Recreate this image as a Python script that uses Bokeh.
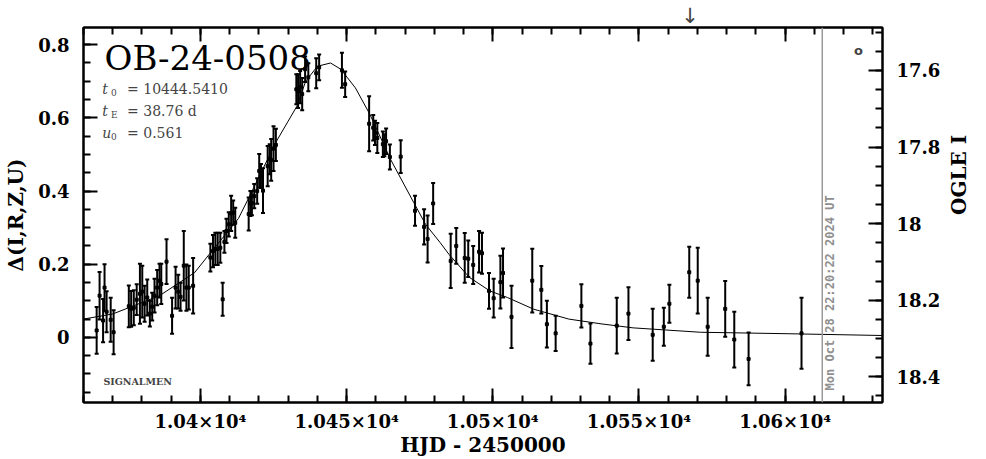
import numpy as np
from bokeh.plotting import figure
from bokeh.models import (Range1d, LinearAxis, FixedTicker, Whisker, TeeHead,
                          ColumnDataSource, Span, Label)
from bokeh.embed import file_html
from bokeh.resources import INLINE

# ---------------- data ----------------
hjd = [10364.5, 10365.5, 10366.7, 10367.2, 10367.9, 10369.3, 10370.3,
       10375.5, 10376.3, 10377.2, 10378.2, 10379.3, 10380.1, 10380.9, 10381.8, 10382.7, 10383.5, 10384.3, 10385.2, 10386.0, 10386.6, 10388.4,
       10390.3, 10391.5, 10392.4, 10393.2, 10394.3, 10395.2, 10396.0, 10397.5,
       10403.4, 10404.3, 10405.1, 10405.9, 10406.8, 10407.6, 10408.2, 10408.9, 10409.7, 10410.5, 10411.2, 10411.9,
       10416.5, 10417.1, 10417.6, 10418.4, 10419.4, 10420.1, 10420.7, 10421.4, 10423.0, 10423.7, 10424.2, 10425.0, 10425.8,
       10432.8, 10433.4, 10434.1, 10434.8, 10435.8, 10436.9, 10439.6, 10440.6, 10448.4, 10449.5,
       10457.7, 10459.1, 10459.7, 10460.5, 10462.4, 10462.9, 10463.5, 10464.8, 10468.5, 10473.4, 10476.5, 10477.7, 10479.6,
       10485.6, 10487.5, 10490.4, 10491.6, 10493.3, 10495.3, 10496.3, 10498.7, 10500.3, 10502.6, 10503.5, 10506.4,
       10513.5, 10516.6, 10518.5, 10521.5, 10530.3, 10533.4, 10542.4, 10546.4, 10554.7, 10558.5, 10560.4, 10567.2,
       10570.1, 10573.5, 10579.5, 10582.6, 10587.5, 10605.6]
delta = [0.019, 0.114, 0.046, 0.136, 0.070, 0.048, 0.014,
         0.085, 0.078, 0.081, 0.103, 0.119, 0.125, 0.092, 0.109, 0.065, 0.084, 0.114, 0.136, 0.155, 0.146, 0.207,
         0.059, 0.136, 0.125, 0.111, 0.196, 0.136, 0.136, 0.141,
         0.218, 0.236, 0.242, 0.242, 0.245, 0.104, 0.261, 0.291, 0.309, 0.339, 0.341, 0.313,
         0.337, 0.366, 0.367, 0.386, 0.400, 0.455, 0.441, 0.401, 0.468, 0.487, 0.485, 0.516, 0.526,
         0.678, 0.673, 0.684, 0.665, 0.733, 0.711, 0.722, 0.738, 0.730, 0.692,
         0.584, 0.573, 0.559, 0.545, 0.528, 0.525, 0.536, 0.493, 0.494, 0.346, 0.302, 0.269, 0.366,
         0.209, 0.250, 0.217, 0.215, 0.198, 0.234, 0.230, 0.127, 0.107, 0.151, 0.176, 0.056,
         0.155, 0.130, 0.036, 0.011, 0.086, -0.017, 0.032, 0.065, 0.007, 0.029, 0.092, 0.178,
         0.155, 0.029, 0.078, -0.006, -0.059, 0.011]
err = [0.064, 0.065, 0.059, 0.064, 0.056, 0.060, 0.060,
       0.057, 0.049, 0.048, 0.042, 0.082, 0.071, 0.049, 0.049, 0.035, 0.038, 0.046, 0.048, 0.046, 0.055, 0.061,
       0.049, 0.057, 0.046, 0.038, 0.095, 0.063, 0.060, 0.076,
       0.038, 0.044, 0.044, 0.044, 0.041, 0.045, 0.030, 0.033, 0.033, 0.048, 0.033, 0.041,
       0.045, 0.034, 0.033, 0.033, 0.035, 0.046, 0.033, 0.061, 0.055, 0.041, 0.057, 0.061, 0.044,
       0.041, 0.046, 0.044, 0.044, 0.035, 0.038, 0.041, 0.035, 0.048, 0.035,
       0.075, 0.035, 0.033, 0.041, 0.035, 0.030, 0.035, 0.034, 0.045, 0.041, 0.048, 0.064, 0.056,
       0.074, 0.049, 0.068, 0.050, 0.052, 0.057, 0.056, 0.049, 0.053, 0.072, 0.067, 0.085,
       0.087, 0.065, 0.064, 0.048, 0.059, 0.055, 0.076, 0.072, 0.071, 0.052, 0.052, 0.070,
       0.090, 0.079, 0.076, 0.076, 0.072, 0.097]

model_hjd = [10360, 10370, 10386, 10398, 10403, 10413, 10416, 10426, 10430, 10433,
             10436, 10440, 10444.5, 10448, 10453, 10458, 10465, 10473, 10477, 10482,
             10485, 10492, 10499, 10505, 10514, 10526, 10537, 10548, 10571, 10601, 10634]
model_delta = [0.050, 0.064, 0.114, 0.177, 0.227, 0.325, 0.373, 0.536, 0.591, 0.632,
               0.700, 0.741, 0.750, 0.733, 0.682, 0.609, 0.487, 0.368, 0.309, 0.259,
               0.227, 0.164, 0.127, 0.109, 0.077, 0.050, 0.037, 0.026, 0.014, 0.010, 0.005]

x_ticks = [10400, 10450, 10500, 10550, 10600]
x_tick_labels = ["1.04×10⁴", "1.045×10⁴", "1.05×10⁴", "1.055×10⁴", "1.06×10⁴"]
y_ticks = [0.0, 0.2, 0.4, 0.6, 0.8]
y_tick_labels = ["0", "0.2", "0.4", "0.6", "0.8"]
mag_ticks = [17.6, 17.8, 18.0, 18.2, 18.4]
mag_tick_labels = ["17.6", "17.8", "18", "18.2", "18.4"]

event_name = "OB-24-0508"
param_symbols = ["t", "t", "u"]
param_subscripts = ["0", "E", "0"]
param_values = ["= 10444.5410", "= 38.76 d", "= 0.561"]
footer_text = "SIGNALMEN"
date_text = "Mon Oct 28 22:20:22 2024 UT"
now_hjd = 10612.7
arrow_hjd = 10567.5

# ---------------- figure ----------------
SERIF = "DejaVu Serif"
p = figure(width=986, height=459, output_backend="svg", toolbar_location=None,
           x_range=Range1d(10360.0, 10633.3), y_range=Range1d(-0.178, 0.847),
           x_axis_location=None, y_axis_location=None,
           min_border_left=83, min_border_right=103, min_border_top=26, min_border_bottom=57)
p.extra_y_ranges = {"mag": Range1d(18.467, 17.488)}
p.xgrid.visible = False
p.ygrid.visible = False
p.outline_line_color = "black"
p.outline_line_width = 2
p.background_fill_color = "white"
p.border_fill_color = "white"

x_minor = [10360 + 10 * i for i in range(28)]
y_minor = [round(-0.15 + 0.05 * i, 2) for i in range(21)]
mag_minor = [round(17.5 + 0.05 * i, 2) for i in range(20)]


def style(ax):
    ax.axis_line_width = 2
    ax.axis_line_color = "black"
    ax.major_tick_line_width = 2
    ax.minor_tick_line_width = 2
    ax.major_tick_in = 14
    ax.major_tick_out = 0
    ax.minor_tick_in = 7
    ax.minor_tick_out = 0
    ax.major_label_text_font = SERIF
    ax.major_label_text_font_style = "bold"
    ax.major_label_text_font_size = "18px"
    ax.major_label_text_color = "black"
    ax.axis_label_text_font = SERIF
    ax.axis_label_text_font_style = "bold"
    ax.axis_label_text_font_size = "20px"
    ax.axis_label_text_color = "black"


xb = LinearAxis(ticker=FixedTicker(ticks=x_ticks, minor_ticks=x_minor))
style(xb)
xb.major_label_overrides = dict(zip(x_ticks, x_tick_labels))
xb.major_label_standoff = 8
xb.axis_label = "HJD - 2450000"
xb.axis_label_standoff = -2
p.add_layout(xb, "below")

xt = LinearAxis(ticker=FixedTicker(ticks=x_ticks, minor_ticks=x_minor))
style(xt)
xt.major_label_overrides = {t: "" for t in x_ticks}
xt.major_label_text_font_size = "0px"
xt.major_label_standoff = 0
p.add_layout(xt, "above")

# arrow mark above the frame
xa = LinearAxis(ticker=FixedTicker(ticks=[arrow_hjd], minor_ticks=[]))
xa.axis_line_color = None
xa.major_tick_line_color = None
xa.minor_tick_line_color = None
xa.major_tick_in = 0
xa.major_tick_out = 0
xa.major_label_overrides = {arrow_hjd: "↓"}
xa.major_label_text_font = "DejaVu Sans"
xa.major_label_text_font_size = "21px"
xa.major_label_standoff = 0
p.add_layout(xa, "above")

yl = LinearAxis(ticker=FixedTicker(ticks=y_ticks, minor_ticks=y_minor))
style(yl)
yl.major_label_overrides = dict(zip(y_ticks, y_tick_labels))
yl.major_label_standoff = 14
yl.axis_label = "Δ(I,R,Z,U)"
yl.axis_label_standoff = 7
p.add_layout(yl, "left")

yr = LinearAxis(y_range_name="mag", ticker=FixedTicker(ticks=mag_ticks, minor_ticks=mag_minor))
style(yr)
yr.major_label_overrides = dict(zip(mag_ticks, mag_tick_labels))
yr.major_label_standoff = 14
yr.axis_label = "OGLE I"
yr.axis_label_standoff = 16
yr.axis_label_orientation = np.pi / 2
p.add_layout(yr, "right")

# ---------------- data marks ----------------
d = np.array(delta)
e = np.array(err)
src = ColumnDataSource(dict(hjd=hjd, delta=delta, upper=list(d + e), lower=list(d - e)))
wh = Whisker(source=src, base="hjd", upper="upper", lower="lower", dimension="height",
             line_width=2, line_color="black",
             upper_head=TeeHead(size=4, line_width=2, line_color="black"),
             lower_head=TeeHead(size=4, line_width=2, line_color="black"))
p.add_layout(wh)
p.scatter("hjd", "delta", source=src, marker="square", size=3, color="black")

p.line(model_hjd, model_delta, line_width=1, line_color="black")

p.add_layout(Span(location=now_hjd, dimension="height", line_color="#999999", line_width=1.5))

# ---------------- annotations ----------------
p.add_layout(Label(x=10367.2, y=0.765, text=event_name, text_font=SERIF,
                   text_font_size="34px", text_color="black", text_baseline="alphabetic"))

rows_y = [0.680, 0.618, 0.558]
for sym, sub, val, yy in zip(param_symbols, param_subscripts, param_values, rows_y):
    p.add_layout(Label(x=10366.4, y=yy, text=sym, text_font=SERIF, text_font_style="italic",
                       text_font_size="14px", text_baseline="alphabetic"))
    p.add_layout(Label(x=10369.4, y=yy - 0.010, text=sub, text_font=SERIF,
                       text_font_size="9px", text_baseline="alphabetic"))
    p.add_layout(Label(x=10374.9, y=yy, text=val, text_font=SERIF,
                       text_font_size="14px", text_baseline="alphabetic"))

p.add_layout(Label(x=10366.8, y=-0.120, text=footer_text, text_font=SERIF, text_font_style="bold",
                   text_font_size="9.5px", text_baseline="alphabetic"))

p.add_layout(Label(x=10625.1, y=0.785, text="o", text_font="DejaVu Sans", text_font_style="bold",
                   text_font_size="13px", text_align="center", text_baseline="middle"))

p.add_layout(Label(x=10615.2, y=-0.145, text=date_text, text_font="DejaVu Sans Mono",
                   text_font_style="bold", text_font_size="12px", text_color="#8f8f8f",
                   angle=np.pi / 2, text_align="left", text_baseline="middle"))

open("out.html", "w").write(file_html(p, INLINE))
